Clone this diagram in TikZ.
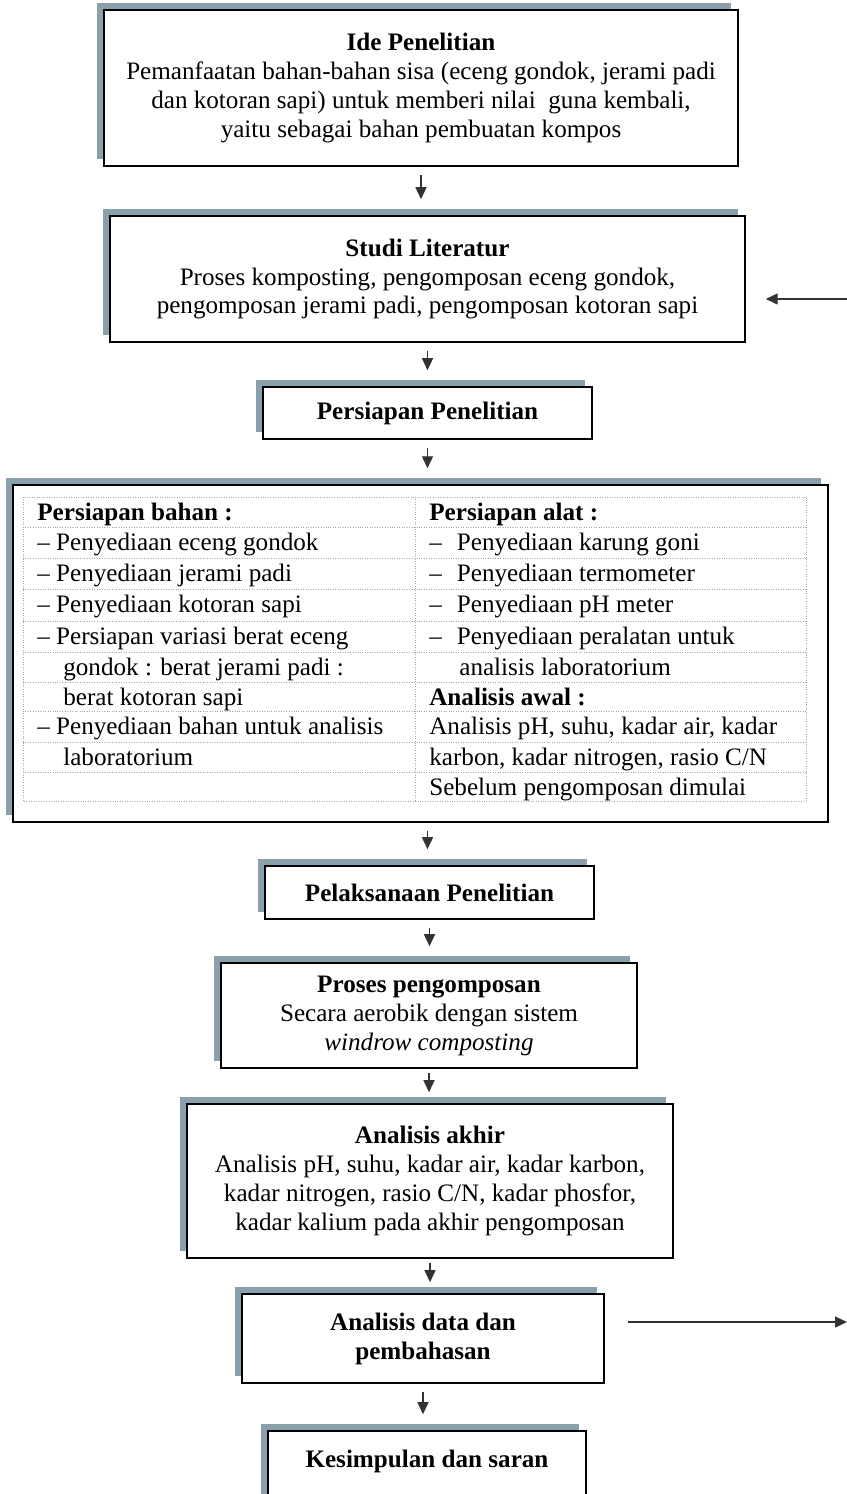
\documentclass[tikz,border=0pt]{standalone}
\usepackage{fontspec}
\setmainfont{Liberation Serif}
\usetikzlibrary{arrows.meta,shadows}
\definecolor{shadowblue}{RGB}{138,160,172}

\begin{document}
\begin{tikzpicture}[x=0.02cm,y=-0.02cm]

	\tikzstyle{stage}=[draw=black, line width=0.9pt, fill=white, rectangle, align=center, inner sep=0pt, font=\fontsize{14.3}{16.5}\selectfont, drop shadow={shadow xshift=-0.14cm, shadow yshift=0.14cm, fill=shadowblue, opacity=1}]

	\tikzstyle{cell}=[anchor=base west, inner sep=0pt, font=\fontsize{14.3}{16.5}\selectfont]

	\tikzstyle{tabline}=[gray!70, line width=0.4pt, densely dotted]

	\tikzstyle{flow}=[-{Triangle[length=0.24cm, width=0.22cm]}, line width=0.8pt, black!80, shorten <=0.16cm, shorten >=0.32cm]

	\useasboundingbox (0,0) rectangle (847,1494);
	\clip (0,0) rectangle (847,1494);

	\node[stage, minimum width=12.68cm, minimum height=3.12cm] (ide) at (421,88) {\textbf{Ide Penelitian}\\ Pemanfaatan bahan-bahan sisa (eceng gondok, jerami padi\\ dan kotoran sapi) untuk memberi nilai\ \ guna kembali,\\ yaitu sebagai bahan pembuatan kompos};

	\node[stage, minimum width=12.7cm, minimum height=2.52cm] (studi) at (427.5,279) {\textbf{Studi Literatur}\\ Proses komposting, pengomposan eceng gondok,\\ pengomposan jerami padi, pengomposan kotoran sapi};

	\node[stage, minimum width=6.58cm, minimum height=1.04cm] (siap) at (427.5,413) {\textbf{Persiapan Penelitian}};

	\node[stage, minimum width=16.3cm, minimum height=6.74cm] (prep) at (420.5,653.5) {};

	% tabel persiapan
	\draw[tabline] (23,497) rectangle (806,801);
	\draw[tabline] (415,497) -- (415,801);
	\draw[tabline] (23,527) -- (806,527);
	\draw[tabline] (23,558) -- (806,558);
	\draw[tabline] (23,589) -- (806,589);
	\draw[tabline] (23,621) -- (806,621);
	\draw[tabline] (23,652) -- (806,652);
	\draw[tabline] (23,682) -- (806,682);
	\draw[tabline] (23,711) -- (806,711);
	\draw[tabline] (23,742) -- (806,742);
	\draw[tabline] (23,772) -- (806,772);

	\node[cell] (bahan0) at (37,520.5) {\textbf{Persiapan bahan :}};
	\node[cell] (bahan1) at (37,550.5) {-- Penyediaan eceng gondok};
	\node[cell] (bahan2) at (37,581.5) {-- Penyediaan jerami padi};
	\node[cell] (bahan3) at (37,612.5) {-- Penyediaan kotoran sapi};
	\node[cell] (bahan4) at (37,644.5) {-- Persiapan variasi berat eceng};
	\node[cell] (bahan5) at (63,675.5) {gondok : berat jerami padi :};
	\node[cell] (bahan6) at (63,705.5) {berat kotoran sapi};
	\node[cell] (bahan7) at (37,734.5) {-- Penyediaan bahan untuk analisis};
	\node[cell] (bahan8) at (63,765.5) {laboratorium};

	\node[cell] (alat0) at (429,520.5) {\textbf{Persiapan alat :}};
	\node[cell] (alat1) at (429,550.5) {--\hspace{0.6em}Penyediaan karung goni};
	\node[cell] (alat2) at (429,581.5) {--\hspace{0.6em}Penyediaan termometer};
	\node[cell] (alat3) at (429,612.5) {--\hspace{0.6em}Penyediaan pH meter};
	\node[cell] (alat4) at (429,644.5) {--\hspace{0.6em}Penyediaan peralatan untuk};
	\node[cell] (alat5) at (459,675.5) {analisis laboratorium};
	\node[cell] (alat6) at (429,705.5) {\textbf{Analisis awal :}};
	\node[cell] (alat7) at (429,734.5) {Analisis pH, suhu, kadar air, kadar};
	\node[cell] (alat8) at (429,765.5) {karbon, kadar nitrogen, rasio C/N};
	\node[cell] (alat9) at (429,795.5) {Sebelum pengomposan dimulai};

	\node[stage, minimum width=6.58cm, minimum height=1.06cm] (laksana) at (429.5,892.5) {\textbf{Pelaksanaan Penelitian}};

	\node[stage, minimum width=8.32cm, minimum height=2.1cm] (kompos) at (429,1015.5) {\textbf{Proses pengomposan}\\ Secara aerobik dengan sistem\\ \textit{windrow composting}};

	\node[stage, minimum width=9.72cm, minimum height=3.08cm] (akhir) at (430,1181) {\textbf{Analisis akhir}\\ Analisis pH, suhu, kadar air, kadar karbon,\\ kadar nitrogen, rasio C/N, kadar phosfor,\\ kadar kalium pada akhir pengomposan};

	\node[stage, minimum width=7.24cm, minimum height=1.78cm] (bahas) at (423,1338.5) {\textbf{Analisis data dan}\\ \textbf{pembahasan}};

	\node[stage, minimum width=6.36cm, minimum height=2.12cm, text depth=1cm] (simpul) at (427,1484) {\textbf{Kesimpulan dan saran}};

	\coordinate (balikin) at (847,299);
	\coordinate (balikout) at (847,1322);

	\draw[flow] (ide.south) -- (ide.south |- studi.north);
	\draw[flow] (studi.south) -- (studi.south |- siap.north);
	\draw[flow] (siap.south) -- (siap.south |- prep.north);
	\draw[flow] (prep.south -| siap.south) -- (siap.south |- laksana.north);
	\draw[flow] (laksana.south) -- (laksana.south |- kompos.north);
	\draw[flow, shorten <=0.08cm, shorten >=0.22cm] (kompos.south) -- (kompos.south |- akhir.north);
	\draw[flow, shorten <=0.08cm, shorten >=0.22cm] (akhir.south) -- (akhir.south |- bahas.north);
	\draw[flow] (bahas.south) -- (bahas.south |- simpul.north);

	\draw[flow, shorten <=0pt, shorten >=0.4cm] (balikin) -- (studi.east |- balikin);
	\draw[flow, shorten <=0.46cm, shorten >=0pt] (bahas.east |- balikout) -- (balikout);

\end{tikzpicture}
\end{document}
